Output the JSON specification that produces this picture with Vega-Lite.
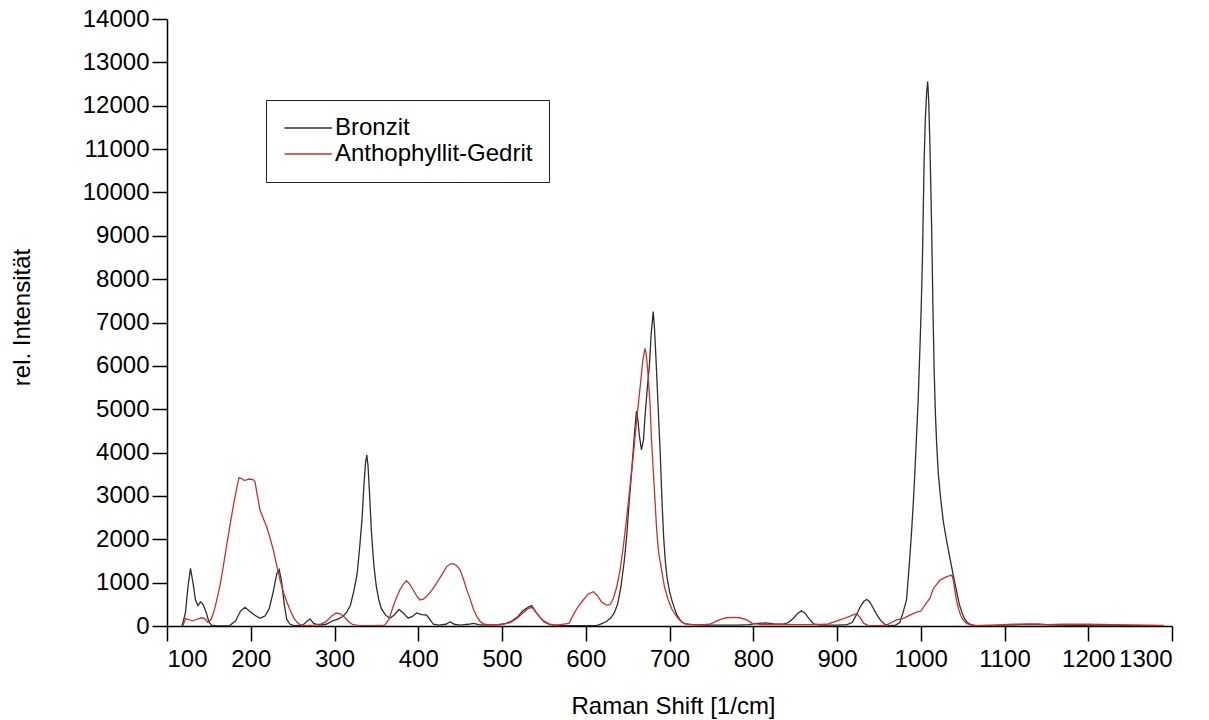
{
  "$schema": "https://vega.github.io/schema/vega-lite/v6.json",
  "width": 1005,
  "height": 607,
  "autosize": "none",
  "padding": {"left": 167, "top": 19, "right": 37, "bottom": 94},
  "background": "white",
  "data": {"values": [
{"sample":"Bronzit","shift":118,"intensity":0},{"sample":"Bronzit","shift":122,"intensity":300},{"sample":"Bronzit","shift":125,"intensity":900},{"sample":"Bronzit","shift":128,"intensity":1330},{"sample":"Bronzit","shift":131,"intensity":1000},{"sample":"Bronzit","shift":134,"intensity":600},{"sample":"Bronzit","shift":137,"intensity":470},{"sample":"Bronzit","shift":140,"intensity":560},{"sample":"Bronzit","shift":143,"intensity":500},{"sample":"Bronzit","shift":147,"intensity":300},{"sample":"Bronzit","shift":150,"intensity":100},{"sample":"Bronzit","shift":153,"intensity":20},{"sample":"Bronzit","shift":160,"intensity":5},{"sample":"Bronzit","shift":175,"intensity":10},{"sample":"Bronzit","shift":182,"intensity":120},{"sample":"Bronzit","shift":188,"intensity":350},{"sample":"Bronzit","shift":193,"intensity":430},{"sample":"Bronzit","shift":198,"intensity":350},{"sample":"Bronzit","shift":204,"intensity":260},{"sample":"Bronzit","shift":211,"intensity":180},{"sample":"Bronzit","shift":217,"intensity":230},{"sample":"Bronzit","shift":222,"intensity":400},{"sample":"Bronzit","shift":227,"intensity":800},{"sample":"Bronzit","shift":231,"intensity":1200},{"sample":"Bronzit","shift":234,"intensity":1300},{"sample":"Bronzit","shift":237,"intensity":1000},{"sample":"Bronzit","shift":240,"intensity":500},{"sample":"Bronzit","shift":243,"intensity":150},{"sample":"Bronzit","shift":247,"intensity":40},{"sample":"Bronzit","shift":252,"intensity":10},{"sample":"Bronzit","shift":262,"intensity":20},{"sample":"Bronzit","shift":268,"intensity":120},{"sample":"Bronzit","shift":271,"intensity":160},{"sample":"Bronzit","shift":275,"intensity":60},{"sample":"Bronzit","shift":282,"intensity":20},{"sample":"Bronzit","shift":290,"intensity":40},{"sample":"Bronzit","shift":298,"intensity":120},{"sample":"Bronzit","shift":304,"intensity":160},{"sample":"Bronzit","shift":310,"intensity":220},{"sample":"Bronzit","shift":315,"intensity":330},{"sample":"Bronzit","shift":319,"intensity":480},{"sample":"Bronzit","shift":323,"intensity":800},{"sample":"Bronzit","shift":327,"intensity":1200},{"sample":"Bronzit","shift":330,"intensity":1800},{"sample":"Bronzit","shift":333,"intensity":2500},{"sample":"Bronzit","shift":335,"intensity":3200},{"sample":"Bronzit","shift":337,"intensity":3750},{"sample":"Bronzit","shift":338.5,"intensity":3950},{"sample":"Bronzit","shift":340,"intensity":3700},{"sample":"Bronzit","shift":342,"intensity":3000},{"sample":"Bronzit","shift":344,"intensity":2200},{"sample":"Bronzit","shift":347,"intensity":1400},{"sample":"Bronzit","shift":350,"intensity":900},{"sample":"Bronzit","shift":353,"intensity":600},{"sample":"Bronzit","shift":356,"intensity":400},{"sample":"Bronzit","shift":361,"intensity":250},{"sample":"Bronzit","shift":366,"intensity":180},{"sample":"Bronzit","shift":371,"intensity":250},{"sample":"Bronzit","shift":377,"intensity":380},{"sample":"Bronzit","shift":382,"intensity":300},{"sample":"Bronzit","shift":388,"intensity":180},{"sample":"Bronzit","shift":393,"intensity":220},{"sample":"Bronzit","shift":398,"intensity":300},{"sample":"Bronzit","shift":404,"intensity":260},{"sample":"Bronzit","shift":410,"intensity":250},{"sample":"Bronzit","shift":414,"intensity":150},{"sample":"Bronzit","shift":418,"intensity":40},{"sample":"Bronzit","shift":425,"intensity":20},{"sample":"Bronzit","shift":433,"intensity":40},{"sample":"Bronzit","shift":438,"intensity":100},{"sample":"Bronzit","shift":443,"intensity":40},{"sample":"Bronzit","shift":450,"intensity":20},{"sample":"Bronzit","shift":460,"intensity":40},{"sample":"Bronzit","shift":466,"intensity":60},{"sample":"Bronzit","shift":472,"intensity":30},{"sample":"Bronzit","shift":480,"intensity":20},{"sample":"Bronzit","shift":495,"intensity":30},{"sample":"Bronzit","shift":505,"intensity":60},{"sample":"Bronzit","shift":512,"intensity":120},{"sample":"Bronzit","shift":518,"intensity":200},{"sample":"Bronzit","shift":525,"intensity":350},{"sample":"Bronzit","shift":531,"intensity":430},{"sample":"Bronzit","shift":535.5,"intensity":470},{"sample":"Bronzit","shift":540,"intensity":330},{"sample":"Bronzit","shift":545,"intensity":210},{"sample":"Bronzit","shift":550,"intensity":100},{"sample":"Bronzit","shift":557,"intensity":30},{"sample":"Bronzit","shift":570,"intensity":10},{"sample":"Bronzit","shift":590,"intensity":10},{"sample":"Bronzit","shift":613,"intensity":10},{"sample":"Bronzit","shift":620,"intensity":60},{"sample":"Bronzit","shift":625,"intensity":110},{"sample":"Bronzit","shift":630,"intensity":190},{"sample":"Bronzit","shift":634,"intensity":300},{"sample":"Bronzit","shift":638,"intensity":500},{"sample":"Bronzit","shift":642,"intensity":900},{"sample":"Bronzit","shift":646,"intensity":1500},{"sample":"Bronzit","shift":649,"intensity":2100},{"sample":"Bronzit","shift":652,"intensity":2900},{"sample":"Bronzit","shift":655,"intensity":3600},{"sample":"Bronzit","shift":658,"intensity":4400},{"sample":"Bronzit","shift":660.5,"intensity":4950},{"sample":"Bronzit","shift":662,"intensity":4800},{"sample":"Bronzit","shift":664,"intensity":4400},{"sample":"Bronzit","shift":666.5,"intensity":4060},{"sample":"Bronzit","shift":669,"intensity":4300},{"sample":"Bronzit","shift":671,"intensity":4900},{"sample":"Bronzit","shift":674,"intensity":5600},{"sample":"Bronzit","shift":676,"intensity":6000},{"sample":"Bronzit","shift":678,"intensity":6700},{"sample":"Bronzit","shift":680.5,"intensity":7250},{"sample":"Bronzit","shift":682,"intensity":6900},{"sample":"Bronzit","shift":684.5,"intensity":5900},{"sample":"Bronzit","shift":687,"intensity":4800},{"sample":"Bronzit","shift":689,"intensity":3950},{"sample":"Bronzit","shift":691,"intensity":2900},{"sample":"Bronzit","shift":693,"intensity":2050},{"sample":"Bronzit","shift":695,"intensity":1500},{"sample":"Bronzit","shift":697,"intensity":1130},{"sample":"Bronzit","shift":700,"intensity":800},{"sample":"Bronzit","shift":703,"intensity":580},{"sample":"Bronzit","shift":706,"intensity":400},{"sample":"Bronzit","shift":709,"intensity":250},{"sample":"Bronzit","shift":713,"intensity":130},{"sample":"Bronzit","shift":717,"intensity":60},{"sample":"Bronzit","shift":725,"intensity":30},{"sample":"Bronzit","shift":740,"intensity":20},{"sample":"Bronzit","shift":760,"intensity":20},{"sample":"Bronzit","shift":780,"intensity":20},{"sample":"Bronzit","shift":795,"intensity":30},{"sample":"Bronzit","shift":805,"intensity":60},{"sample":"Bronzit","shift":815,"intensity":70},{"sample":"Bronzit","shift":825,"intensity":50},{"sample":"Bronzit","shift":835,"intensity":40},{"sample":"Bronzit","shift":842,"intensity":80},{"sample":"Bronzit","shift":848,"intensity":180},{"sample":"Bronzit","shift":853,"intensity":290},{"sample":"Bronzit","shift":857.5,"intensity":350},{"sample":"Bronzit","shift":862,"intensity":290},{"sample":"Bronzit","shift":867,"intensity":160},{"sample":"Bronzit","shift":872,"intensity":50},{"sample":"Bronzit","shift":880,"intensity":20},{"sample":"Bronzit","shift":900,"intensity":20},{"sample":"Bronzit","shift":912,"intensity":30},{"sample":"Bronzit","shift":918,"intensity":80},{"sample":"Bronzit","shift":923,"intensity":250},{"sample":"Bronzit","shift":928,"intensity":450},{"sample":"Bronzit","shift":932,"intensity":570},{"sample":"Bronzit","shift":935.5,"intensity":610},{"sample":"Bronzit","shift":939,"intensity":560},{"sample":"Bronzit","shift":943,"intensity":420},{"sample":"Bronzit","shift":947,"intensity":280},{"sample":"Bronzit","shift":952,"intensity":130},{"sample":"Bronzit","shift":957,"intensity":40},{"sample":"Bronzit","shift":963,"intensity":10},{"sample":"Bronzit","shift":970,"intensity":20},{"sample":"Bronzit","shift":975,"intensity":80},{"sample":"Bronzit","shift":979,"intensity":320},{"sample":"Bronzit","shift":983,"intensity":600},{"sample":"Bronzit","shift":985,"intensity":1090},{"sample":"Bronzit","shift":987,"intensity":1600},{"sample":"Bronzit","shift":989,"intensity":2170},{"sample":"Bronzit","shift":991,"intensity":2800},{"sample":"Bronzit","shift":993,"intensity":3550},{"sample":"Bronzit","shift":995,"intensity":4400},{"sample":"Bronzit","shift":997,"intensity":5240},{"sample":"Bronzit","shift":999,"intensity":6400},{"sample":"Bronzit","shift":1000.5,"intensity":7300},{"sample":"Bronzit","shift":1002,"intensity":8450},{"sample":"Bronzit","shift":1004,"intensity":10700},{"sample":"Bronzit","shift":1005.5,"intensity":11700},{"sample":"Bronzit","shift":1007,"intensity":12300},{"sample":"Bronzit","shift":1008.3,"intensity":12560},{"sample":"Bronzit","shift":1009.5,"intensity":12100},{"sample":"Bronzit","shift":1011,"intensity":11050},{"sample":"Bronzit","shift":1013,"intensity":9200},{"sample":"Bronzit","shift":1014.5,"intensity":7400},{"sample":"Bronzit","shift":1016,"intensity":5900},{"sample":"Bronzit","shift":1017.5,"intensity":4900},{"sample":"Bronzit","shift":1019,"intensity":4200},{"sample":"Bronzit","shift":1021,"intensity":3500},{"sample":"Bronzit","shift":1024,"intensity":2900},{"sample":"Bronzit","shift":1027,"intensity":2400},{"sample":"Bronzit","shift":1031,"intensity":1950},{"sample":"Bronzit","shift":1035,"intensity":1550},{"sample":"Bronzit","shift":1039,"intensity":1150},{"sample":"Bronzit","shift":1043,"intensity":780},{"sample":"Bronzit","shift":1046,"intensity":500},{"sample":"Bronzit","shift":1049,"intensity":320},{"sample":"Bronzit","shift":1052,"intensity":180},{"sample":"Bronzit","shift":1055,"intensity":90},{"sample":"Bronzit","shift":1060,"intensity":30},{"sample":"Bronzit","shift":1065,"intensity":10},{"sample":"Bronzit","shift":1080,"intensity":15},{"sample":"Bronzit","shift":1100,"intensity":20},{"sample":"Bronzit","shift":1120,"intensity":30},{"sample":"Bronzit","shift":1140,"intensity":40},{"sample":"Bronzit","shift":1160,"intensity":20},{"sample":"Bronzit","shift":1190,"intensity":15},{"sample":"Bronzit","shift":1220,"intensity":20},{"sample":"Bronzit","shift":1250,"intensity":15},{"sample":"Bronzit","shift":1290,"intensity":10},
{"sample":"Anthophyllit-Gedrit","shift":119,"intensity":0},{"sample":"Anthophyllit-Gedrit","shift":122,"intensity":170},{"sample":"Anthophyllit-Gedrit","shift":126,"intensity":150},{"sample":"Anthophyllit-Gedrit","shift":130,"intensity":120},{"sample":"Anthophyllit-Gedrit","shift":135,"intensity":150},{"sample":"Anthophyllit-Gedrit","shift":141,"intensity":190},{"sample":"Anthophyllit-Gedrit","shift":145,"intensity":170},{"sample":"Anthophyllit-Gedrit","shift":149,"intensity":80},{"sample":"Anthophyllit-Gedrit","shift":153,"intensity":160},{"sample":"Anthophyllit-Gedrit","shift":157,"intensity":400},{"sample":"Anthophyllit-Gedrit","shift":160,"intensity":650},{"sample":"Anthophyllit-Gedrit","shift":163,"intensity":900},{"sample":"Anthophyllit-Gedrit","shift":167,"intensity":1350},{"sample":"Anthophyllit-Gedrit","shift":171,"intensity":1830},{"sample":"Anthophyllit-Gedrit","shift":175,"intensity":2300},{"sample":"Anthophyllit-Gedrit","shift":179,"intensity":2750},{"sample":"Anthophyllit-Gedrit","shift":183,"intensity":3150},{"sample":"Anthophyllit-Gedrit","shift":186,"intensity":3420},{"sample":"Anthophyllit-Gedrit","shift":189,"intensity":3400},{"sample":"Anthophyllit-Gedrit","shift":192,"intensity":3360},{"sample":"Anthophyllit-Gedrit","shift":195,"intensity":3370},{"sample":"Anthophyllit-Gedrit","shift":198,"intensity":3390},{"sample":"Anthophyllit-Gedrit","shift":201,"intensity":3380},{"sample":"Anthophyllit-Gedrit","shift":203,"intensity":3370},{"sample":"Anthophyllit-Gedrit","shift":205,"intensity":3330},{"sample":"Anthophyllit-Gedrit","shift":208,"intensity":3000},{"sample":"Anthophyllit-Gedrit","shift":211,"intensity":2680},{"sample":"Anthophyllit-Gedrit","shift":215,"intensity":2480},{"sample":"Anthophyllit-Gedrit","shift":219,"intensity":2290},{"sample":"Anthophyllit-Gedrit","shift":223,"intensity":2030},{"sample":"Anthophyllit-Gedrit","shift":227,"intensity":1750},{"sample":"Anthophyllit-Gedrit","shift":231,"intensity":1400},{"sample":"Anthophyllit-Gedrit","shift":235,"intensity":1060},{"sample":"Anthophyllit-Gedrit","shift":239,"intensity":780},{"sample":"Anthophyllit-Gedrit","shift":243,"intensity":560},{"sample":"Anthophyllit-Gedrit","shift":247,"intensity":370},{"sample":"Anthophyllit-Gedrit","shift":251,"intensity":200},{"sample":"Anthophyllit-Gedrit","shift":255,"intensity":90},{"sample":"Anthophyllit-Gedrit","shift":259,"intensity":30},{"sample":"Anthophyllit-Gedrit","shift":265,"intensity":10},{"sample":"Anthophyllit-Gedrit","shift":275,"intensity":20},{"sample":"Anthophyllit-Gedrit","shift":283,"intensity":40},{"sample":"Anthophyllit-Gedrit","shift":290,"intensity":100},{"sample":"Anthophyllit-Gedrit","shift":296,"intensity":220},{"sample":"Anthophyllit-Gedrit","shift":302,"intensity":300},{"sample":"Anthophyllit-Gedrit","shift":307,"intensity":280},{"sample":"Anthophyllit-Gedrit","shift":312,"intensity":200},{"sample":"Anthophyllit-Gedrit","shift":317,"intensity":100},{"sample":"Anthophyllit-Gedrit","shift":322,"intensity":30},{"sample":"Anthophyllit-Gedrit","shift":330,"intensity":10},{"sample":"Anthophyllit-Gedrit","shift":345,"intensity":10},{"sample":"Anthophyllit-Gedrit","shift":360,"intensity":20},{"sample":"Anthophyllit-Gedrit","shift":365,"intensity":150},{"sample":"Anthophyllit-Gedrit","shift":370,"intensity":450},{"sample":"Anthophyllit-Gedrit","shift":374,"intensity":650},{"sample":"Anthophyllit-Gedrit","shift":378,"intensity":830},{"sample":"Anthophyllit-Gedrit","shift":382,"intensity":960},{"sample":"Anthophyllit-Gedrit","shift":386,"intensity":1045},{"sample":"Anthophyllit-Gedrit","shift":390,"intensity":960},{"sample":"Anthophyllit-Gedrit","shift":394,"intensity":830},{"sample":"Anthophyllit-Gedrit","shift":398,"intensity":700},{"sample":"Anthophyllit-Gedrit","shift":402,"intensity":600},{"sample":"Anthophyllit-Gedrit","shift":406,"intensity":620},{"sample":"Anthophyllit-Gedrit","shift":410,"intensity":680},{"sample":"Anthophyllit-Gedrit","shift":416,"intensity":820},{"sample":"Anthophyllit-Gedrit","shift":422,"intensity":990},{"sample":"Anthophyllit-Gedrit","shift":428,"intensity":1180},{"sample":"Anthophyllit-Gedrit","shift":434,"intensity":1370},{"sample":"Anthophyllit-Gedrit","shift":438,"intensity":1430},{"sample":"Anthophyllit-Gedrit","shift":442,"intensity":1440},{"sample":"Anthophyllit-Gedrit","shift":446,"intensity":1390},{"sample":"Anthophyllit-Gedrit","shift":450,"intensity":1290},{"sample":"Anthophyllit-Gedrit","shift":454,"intensity":1080},{"sample":"Anthophyllit-Gedrit","shift":458,"intensity":830},{"sample":"Anthophyllit-Gedrit","shift":462,"intensity":620},{"sample":"Anthophyllit-Gedrit","shift":466,"intensity":380},{"sample":"Anthophyllit-Gedrit","shift":470,"intensity":220},{"sample":"Anthophyllit-Gedrit","shift":474,"intensity":100},{"sample":"Anthophyllit-Gedrit","shift":478,"intensity":50},{"sample":"Anthophyllit-Gedrit","shift":486,"intensity":20},{"sample":"Anthophyllit-Gedrit","shift":500,"intensity":30},{"sample":"Anthophyllit-Gedrit","shift":510,"intensity":80},{"sample":"Anthophyllit-Gedrit","shift":518,"intensity":180},{"sample":"Anthophyllit-Gedrit","shift":525,"intensity":300},{"sample":"Anthophyllit-Gedrit","shift":531,"intensity":400},{"sample":"Anthophyllit-Gedrit","shift":536,"intensity":430},{"sample":"Anthophyllit-Gedrit","shift":540,"intensity":330},{"sample":"Anthophyllit-Gedrit","shift":545,"intensity":210},{"sample":"Anthophyllit-Gedrit","shift":549,"intensity":130},{"sample":"Anthophyllit-Gedrit","shift":557,"intensity":40},{"sample":"Anthophyllit-Gedrit","shift":565,"intensity":20},{"sample":"Anthophyllit-Gedrit","shift":580,"intensity":60},{"sample":"Anthophyllit-Gedrit","shift":585,"intensity":250},{"sample":"Anthophyllit-Gedrit","shift":590,"intensity":420},{"sample":"Anthophyllit-Gedrit","shift":597,"intensity":600},{"sample":"Anthophyllit-Gedrit","shift":603,"intensity":740},{"sample":"Anthophyllit-Gedrit","shift":609,"intensity":790},{"sample":"Anthophyllit-Gedrit","shift":614,"intensity":700},{"sample":"Anthophyllit-Gedrit","shift":619,"intensity":550},{"sample":"Anthophyllit-Gedrit","shift":625,"intensity":480},{"sample":"Anthophyllit-Gedrit","shift":629,"intensity":490},{"sample":"Anthophyllit-Gedrit","shift":633,"intensity":640},{"sample":"Anthophyllit-Gedrit","shift":637,"intensity":900},{"sample":"Anthophyllit-Gedrit","shift":641,"intensity":1290},{"sample":"Anthophyllit-Gedrit","shift":645,"intensity":1850},{"sample":"Anthophyllit-Gedrit","shift":649,"intensity":2520},{"sample":"Anthophyllit-Gedrit","shift":653,"intensity":3250},{"sample":"Anthophyllit-Gedrit","shift":657,"intensity":3980},{"sample":"Anthophyllit-Gedrit","shift":661,"intensity":4800},{"sample":"Anthophyllit-Gedrit","shift":665,"intensity":5520},{"sample":"Anthophyllit-Gedrit","shift":668,"intensity":6100},{"sample":"Anthophyllit-Gedrit","shift":670.7,"intensity":6400},{"sample":"Anthophyllit-Gedrit","shift":672,"intensity":6300},{"sample":"Anthophyllit-Gedrit","shift":674,"intensity":5900},{"sample":"Anthophyllit-Gedrit","shift":676.7,"intensity":5140},{"sample":"Anthophyllit-Gedrit","shift":678.5,"intensity":4300},{"sample":"Anthophyllit-Gedrit","shift":680.6,"intensity":3600},{"sample":"Anthophyllit-Gedrit","shift":684.7,"intensity":2210},{"sample":"Anthophyllit-Gedrit","shift":687,"intensity":1700},{"sample":"Anthophyllit-Gedrit","shift":690.6,"intensity":1290},{"sample":"Anthophyllit-Gedrit","shift":694,"intensity":900},{"sample":"Anthophyllit-Gedrit","shift":698.5,"intensity":600},{"sample":"Anthophyllit-Gedrit","shift":703,"intensity":380},{"sample":"Anthophyllit-Gedrit","shift":708.6,"intensity":215},{"sample":"Anthophyllit-Gedrit","shift":714,"intensity":100},{"sample":"Anthophyllit-Gedrit","shift":720,"intensity":40},{"sample":"Anthophyllit-Gedrit","shift":730,"intensity":30},{"sample":"Anthophyllit-Gedrit","shift":740,"intensity":30},{"sample":"Anthophyllit-Gedrit","shift":748,"intensity":40},{"sample":"Anthophyllit-Gedrit","shift":755,"intensity":100},{"sample":"Anthophyllit-Gedrit","shift":762,"intensity":160},{"sample":"Anthophyllit-Gedrit","shift":768,"intensity":190},{"sample":"Anthophyllit-Gedrit","shift":776,"intensity":200},{"sample":"Anthophyllit-Gedrit","shift":784,"intensity":190},{"sample":"Anthophyllit-Gedrit","shift":792,"intensity":140},{"sample":"Anthophyllit-Gedrit","shift":799,"intensity":60},{"sample":"Anthophyllit-Gedrit","shift":810,"intensity":30},{"sample":"Anthophyllit-Gedrit","shift":830,"intensity":40},{"sample":"Anthophyllit-Gedrit","shift":850,"intensity":30},{"sample":"Anthophyllit-Gedrit","shift":870,"intensity":30},{"sample":"Anthophyllit-Gedrit","shift":888,"intensity":40},{"sample":"Anthophyllit-Gedrit","shift":900,"intensity":120},{"sample":"Anthophyllit-Gedrit","shift":908,"intensity":170},{"sample":"Anthophyllit-Gedrit","shift":915,"intensity":220},{"sample":"Anthophyllit-Gedrit","shift":920,"intensity":260},{"sample":"Anthophyllit-Gedrit","shift":924,"intensity":280},{"sample":"Anthophyllit-Gedrit","shift":928,"intensity":180},{"sample":"Anthophyllit-Gedrit","shift":932,"intensity":60},{"sample":"Anthophyllit-Gedrit","shift":937,"intensity":15},{"sample":"Anthophyllit-Gedrit","shift":950,"intensity":10},{"sample":"Anthophyllit-Gedrit","shift":959,"intensity":20},{"sample":"Anthophyllit-Gedrit","shift":965,"intensity":80},{"sample":"Anthophyllit-Gedrit","shift":971,"intensity":140},{"sample":"Anthophyllit-Gedrit","shift":979,"intensity":170},{"sample":"Anthophyllit-Gedrit","shift":987,"intensity":250},{"sample":"Anthophyllit-Gedrit","shift":995,"intensity":320},{"sample":"Anthophyllit-Gedrit","shift":1000,"intensity":340},{"sample":"Anthophyllit-Gedrit","shift":1005,"intensity":480},{"sample":"Anthophyllit-Gedrit","shift":1011,"intensity":640},{"sample":"Anthophyllit-Gedrit","shift":1015,"intensity":860},{"sample":"Anthophyllit-Gedrit","shift":1019,"intensity":960},{"sample":"Anthophyllit-Gedrit","shift":1023,"intensity":1060},{"sample":"Anthophyllit-Gedrit","shift":1027,"intensity":1100},{"sample":"Anthophyllit-Gedrit","shift":1031,"intensity":1140},{"sample":"Anthophyllit-Gedrit","shift":1035,"intensity":1160},{"sample":"Anthophyllit-Gedrit","shift":1037,"intensity":1180},{"sample":"Anthophyllit-Gedrit","shift":1039,"intensity":1050},{"sample":"Anthophyllit-Gedrit","shift":1041,"intensity":780},{"sample":"Anthophyllit-Gedrit","shift":1043,"intensity":560},{"sample":"Anthophyllit-Gedrit","shift":1045,"intensity":400},{"sample":"Anthophyllit-Gedrit","shift":1048,"intensity":230},{"sample":"Anthophyllit-Gedrit","shift":1051,"intensity":130},{"sample":"Anthophyllit-Gedrit","shift":1055,"intensity":60},{"sample":"Anthophyllit-Gedrit","shift":1060,"intensity":20},{"sample":"Anthophyllit-Gedrit","shift":1070,"intensity":10},{"sample":"Anthophyllit-Gedrit","shift":1090,"intensity":20},{"sample":"Anthophyllit-Gedrit","shift":1110,"intensity":40},{"sample":"Anthophyllit-Gedrit","shift":1130,"intensity":50},{"sample":"Anthophyllit-Gedrit","shift":1150,"intensity":30},{"sample":"Anthophyllit-Gedrit","shift":1170,"intensity":40},{"sample":"Anthophyllit-Gedrit","shift":1200,"intensity":40},{"sample":"Anthophyllit-Gedrit","shift":1230,"intensity":30},{"sample":"Anthophyllit-Gedrit","shift":1260,"intensity":20},{"sample":"Anthophyllit-Gedrit","shift":1290,"intensity":15}
  ]},
  "mark": {"type": "line", "strokeWidth": 1.3, "clip": true},
  "encoding": {
    "x": {
      "field": "shift", "type": "quantitative",
      "scale": {"domain": [100, 1300], "nice": false},
      "axis": {
        "title": "Raman Shift [1/cm]",
        "values": [100,200,300,400,500,600,700,800,900,1000,1100,1200,1300],
        "format": "d",
        "grid": false,
        "tickSize": 15,
        "labelPadding": 6,
        "titleX": 506,
        "titleY": 80,
        "titleBaseline": "middle",
        "titleAlign": "center"
      }
    },
    "y": {
      "field": "intensity", "type": "quantitative",
      "scale": {"domain": [0, 14000], "nice": false},
      "axis": {
        "title": "rel. Intensität",
        "values": [0,1000,2000,3000,4000,5000,6000,7000,8000,9000,10000,11000,12000,13000,14000],
        "format": "d",
        "grid": false,
        "tickSize": 15,
        "labelPadding": 3,
        "titleAngle": -90,
        "titleX": -145,
        "titleY": 298,
        "titleAlign": "center",
        "titleBaseline": "middle"
      }
    },
    "color": {
      "field": "sample", "type": "nominal",
      "sort": ["Bronzit", "Anthophyllit-Gedrit"],
      "scale": {"domain": ["Bronzit", "Anthophyllit-Gedrit"], "range": ["#2e2e2e", "#c8312f"]},
      "legend": {
        "title": null,
        "orient": "none",
        "legendX": 99,
        "legendY": 81,
        "strokeColor": "#222222",
        "padding": 16,
        "symbolType": "M-1,0H4",
        "symbolSize": 361,
        "symbolStrokeWidth": 1.5,
        "labelFont": "Liberation Sans",
        "labelFontSize": 24,
        "labelColor": "black",
        "labelOffset": 29,
        "labelLimit": 500,
        "rowPadding": 2
      }
    }
  },
  "config": {
    "view": {"stroke": null},
    "legend": {"strokeWidth": 1},
    "axis": {
      "domainColor": "black",
      "domainWidth": 1.5,
      "tickColor": "black",
      "tickWidth": 1.5,
      "labelColor": "black",
      "labelFont": "Liberation Sans",
      "labelFontSize": 24,
      "titleColor": "black",
      "titleFont": "Liberation Sans",
      "titleFontSize": 24,
      "titleFontWeight": "normal"
    }
  }
}
